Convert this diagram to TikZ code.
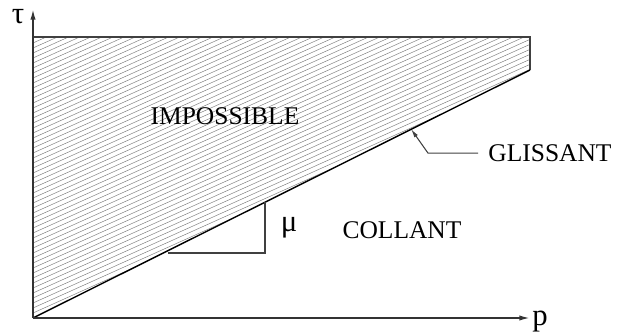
\documentclass[tikz,border=0pt]{standalone}
\usepackage{fontspec}
\setmainfont{Liberation Serif}
\usetikzlibrary{arrows.meta}

\begin{document}
\begin{tikzpicture}[
  every node/.style={inner sep=0pt,font=\fontsize{14.5}{17}\selectfont},
  greek/.style={font=\fontsize{17.5}{20}\selectfont},
  axis/.style={line width=0.9pt,draw=black!80,-{Latex[length=6pt,width=3pt]}},
  hatch/.style={draw=black!50,line width=0.28pt},
  edgeline/.style={line width=0.6pt,draw=black!75}
]
\useasboundingbox (-0.66,-0.30) rectangle (11.68,6.36);
\coordinate (O) at (0,0);
\coordinate (Ytip) at (0,6.18);
\coordinate (Xtip) at (9.94,0);
\coordinate (TL) at (0,5.62);
\coordinate (TR) at (9.94,5.62);
\coordinate (BR) at (9.94,4.96);
% hatched zone
\begin{scope}
  \clip (O) -- (TL) -- (TR) -- (BR) -- cycle;
  \foreach \k in {0,...,60} \draw[hatch] (0,5.7-\k*0.1) -- ++(10,4.5);
\end{scope}
\draw[edgeline] (TL) -- (TR) -- (BR);
\draw[line width=0.8pt] (O) -- (BR);
\draw[axis] (O) -- (Ytip);
\draw[axis] (O) -- (Xtip);
\node[greek,anchor=base] (tau) at (-0.30,5.89) {τ};
\node[greek,anchor=base] (p) at (10.14,-0.14) {p};
% labels
\node[anchor=base] (imp) at (3.84,3.87) {IMPOSSIBLE};
\node[anchor=base] (gli) at (10.34,3.13) {GLISSANT};
\node[anchor=base] (col) at (7.38,1.59) {COLLANT};
\node[greek,anchor=base] (mu) at (5.12,1.73) {μ};
% leader and slope triangle
\coordinate (gtip) at (7.56,3.78);
\draw[edgeline,-{Latex[length=5pt,width=2.4pt]}] ([xshift=-0.2cm]gli.west) -- ++(-1,0) -- (gtip);
\coordinate (ta) at (2.70,1.30);
\coordinate (tb) at (4.64,1.30);
\coordinate (tc) at (4.64,2.315);
\draw[edgeline] (ta) -- (tb) -- (tc);
\end{tikzpicture}
\end{document}
